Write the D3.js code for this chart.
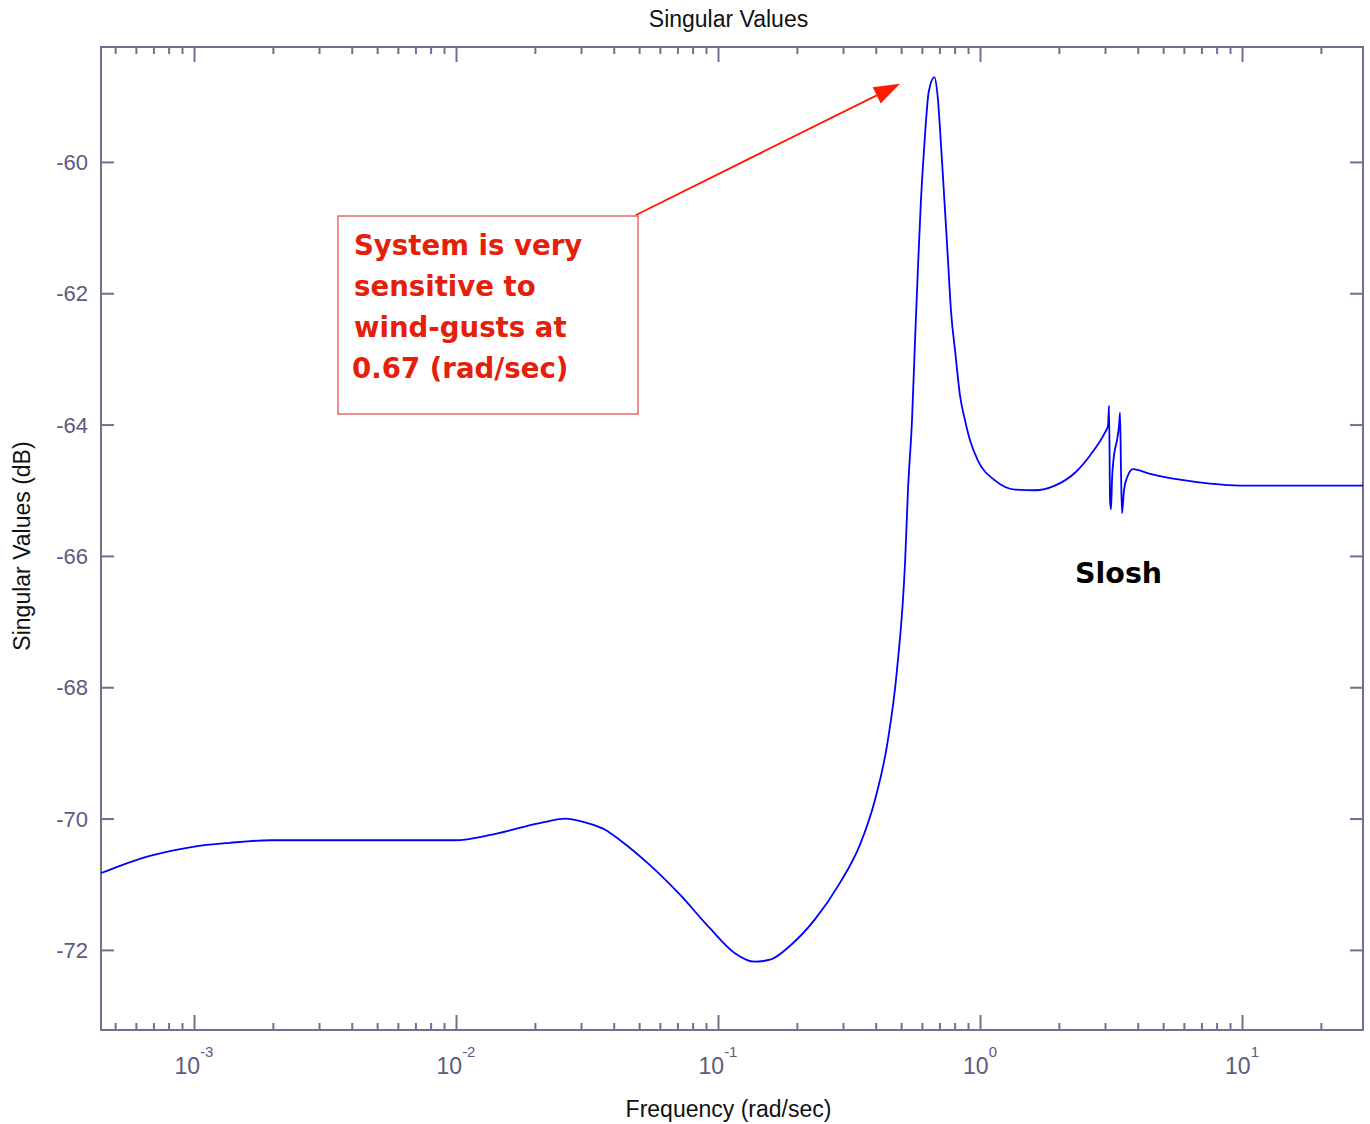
<!DOCTYPE html>
<html>
<head>
<meta charset="utf-8">
<script src="https://cdn.jsdelivr.net/npm/d3@7"></script>
<style>
  html, body { margin: 0; padding: 0; background: #fff; }
  svg { display: block; }
</style>
</head>
<body>
<svg id="chart" width="1370" height="1124"></svg>
<script>
// ---------- data ----------
const freq = [4.416e-4, 5.22e-4, 6.79e-4, 9.9e-4, 1.37e-3, 1.95e-3, 3.94e-3, 9.9e-3, 0.0135, 0.01606,
  0.0192, 0.02187, 0.0261, 0.02844, 0.0325, 0.03707, 0.0423, 0.055, 0.0716, 0.0931,
  0.116, 0.138, 0.158, 0.188, 0.234, 0.292, 0.348, 0.397, 0.442, 0.482,
  0.518, 0.531, 0.55, 0.565, 0.579, 0.595, 0.611, 0.638, 0.67, 0.686,
  0.716, 0.755, 0.775, 0.803, 0.839, 0.877, 0.916, 0.982, 1.14, 1.36,
  1.62, 1.93, 2.31, 2.63, 3.0, 3.08, 3.108, 3.136, 3.162, 3.19,
  3.247, 3.333, 3.393, 3.423, 3.453, 3.483, 3.545, 3.639, 3.837, 4.456,
  5.8, 7.55, 9.83, 28.96];
const singularDb = [-70.83, -70.72, -70.57, -70.43, -70.37, -70.33, -70.33, -70.33, -70.25, -70.18,
  -70.10, -70.05, -70.00, -70.02, -70.08, -70.17, -70.33, -70.71, -71.16, -71.67,
  -72.05, -72.18, -72.15, -71.94, -71.54, -70.98, -70.40, -69.72, -68.88, -67.74,
  -66.07, -65.00, -63.94, -62.72, -61.66, -60.59, -59.83, -58.92, -58.71, -58.92,
  -59.98, -61.51, -62.27, -62.87, -63.56, -63.94, -64.24, -64.55, -64.85, -64.99,
  -65.00, -64.93, -64.73, -64.47, -64.12, -64.02, -63.71, -65.16, -65.29, -64.85,
  -64.47, -64.24, -64.02, -63.82, -64.70, -65.35, -65.00, -64.81, -64.68, -64.75,
  -64.84, -64.90, -64.93, -64.93];
const xMajorTicks = [1e-3, 1e-2, 1e-1, 1, 10];
const xTickExponents = ["-3", "-2", "-1", "0", "1"];
const yTicks = [-72, -70, -68, -66, -64, -62, -60];
const titleText = "Singular Values";
const xLabelText = "Frequency (rad/sec)";
const yLabelText = "Singular Values (dB)";
const noteLines = ["System is very", "sensitive to", "wind-gusts at", "0.67 (rad/sec)"];
const sloshText = "Slosh";

// ---------- layout ----------
const svg = d3.select("#chart");
const L = 101, R = 1363, T = 47, B = 1030;
const axisColor = "#6f6f90";
const labelColor = "#5a5a82";

const x = d3.scaleLog().domain([4.416e-4, 28.96]).range([L, R]);
const y = d3.scaleLinear().domain([-73.22, -58.25]).range([B, T]);

// minor ticks
const xMinor = [];
for (let e = -4; e <= 1; e++) for (let k = 2; k <= 9; k++) {
  const v = k * Math.pow(10, e);
  if (v >= x.domain()[0] && v <= x.domain()[1]) xMinor.push(v);
}

svg.append("rect").attr("x", L).attr("y", T).attr("width", R - L).attr("height", B - T)
  .attr("fill", "#fff");

function styleAxis(g) {
  g.select(".domain").remove();
  g.selectAll(".tick line").attr("stroke", axisColor).attr("stroke-width", 2);
}

svg.append("g").attr("transform", `translate(0,${B})`)
  .call(d3.axisBottom(x).tickValues(xMajorTicks).tickSize(-15).tickFormat("")).call(styleAxis);
svg.append("g").attr("transform", `translate(0,${B})`)
  .call(d3.axisBottom(x).tickValues(xMinor).tickSize(-7).tickFormat("")).call(styleAxis);
svg.append("g").attr("transform", `translate(0,${T})`)
  .call(d3.axisTop(x).tickValues(xMajorTicks).tickSize(-15).tickFormat("")).call(styleAxis);
svg.append("g").attr("transform", `translate(0,${T})`)
  .call(d3.axisTop(x).tickValues(xMinor).tickSize(-7).tickFormat("")).call(styleAxis);
svg.append("g").attr("transform", `translate(${L},0)`)
  .call(d3.axisLeft(y).tickValues(yTicks).tickSize(-13).tickFormat("")).call(styleAxis);
svg.append("g").attr("transform", `translate(${R},0)`)
  .call(d3.axisRight(y).tickValues(yTicks).tickSize(-13).tickFormat("")).call(styleAxis);

svg.append("rect").attr("x", L).attr("y", T).attr("width", R - L).attr("height", B - T)
  .attr("fill", "none").attr("stroke", axisColor).attr("stroke-width", 2);

// x tick labels
const xl = svg.append("g").attr("font-family", "'Liberation Sans', Arial, sans-serif")
  .attr("fill", labelColor);
xMajorTicks.forEach((v, i) => {
  const t = xl.append("text").attr("x", x(v)).attr("y", 1074)
    .attr("text-anchor", "middle").attr("font-size", 23);
  t.append("tspan").text("10");
  t.append("tspan").attr("font-size", 15).attr("dy", -17).text(xTickExponents[i]);
});

// y tick labels
const yl = svg.append("g").attr("font-family", "'Liberation Sans', Arial, sans-serif")
  .attr("fill", labelColor);
yTicks.forEach(v => {
  yl.append("text").attr("x", 88).attr("y", y(v) + 8)
    .attr("text-anchor", "end").attr("font-size", 22).text(v);
});

// titles
svg.append("text").attr("x", 728.5).attr("y", 27).attr("text-anchor", "middle")
  .attr("font-family", "'Liberation Sans', Arial, sans-serif").attr("font-size", 23)
  .attr("fill", "#111").text(titleText);
svg.append("text").attr("x", 728.5).attr("y", 1117).attr("text-anchor", "middle")
  .attr("font-family", "'Liberation Sans', Arial, sans-serif").attr("font-size", 23)
  .attr("fill", "#111").text(xLabelText);
svg.append("text").attr("transform", `translate(30,546) rotate(-90)`).attr("text-anchor", "middle")
  .attr("font-family", "'Liberation Sans', Arial, sans-serif").attr("font-size", 23)
  .attr("fill", "#111").text(yLabelText);

// curve
const pts = freq.map((f, i) => [f, singularDb[i]]);
svg.append("path").datum(pts)
  .attr("d", d3.line().x(d => x(d[0])).y(d => y(d[1])).curve(d3.curveMonotoneX))
  .attr("fill", "none").attr("stroke", "#0000ff").attr("stroke-width", 1.8)
  .attr("stroke-linejoin", "round");

// annotation box
const boxX = 338, boxY = 216, boxW = 300, boxH = 198;
svg.append("rect").attr("x", boxX).attr("y", boxY).attr("width", boxW).attr("height", boxH)
  .attr("fill", "#fff").attr("stroke", "#e46a6a").attr("stroke-width", 1.5);
const note = svg.append("text").attr("font-family", "'DejaVu Sans', Verdana, sans-serif")
  .attr("font-weight", "bold").attr("font-size", 27.6).attr("fill", "#e4200a");
noteLines.forEach((s, i) => {
  note.append("tspan").attr("x", i === 3 ? 352 : 354).attr("y", 255 + i * 41).text(s);
});

// arrow from box corner to peak
const ax0 = boxX + boxW - 2, ay0 = boxY - 1;
const tipX = x(0.495), tipY = y(-58.81);
const ang = Math.atan2(tipY - ay0, tipX - ax0);
const hl = 26, hw = 9;
const bx = tipX - hl * Math.cos(ang), by = tipY - hl * Math.sin(ang);
svg.append("line").attr("x1", ax0).attr("y1", ay0).attr("x2", bx).attr("y2", by)
  .attr("stroke", "#ff1a00").attr("stroke-width", 1.8);
svg.append("polygon")
  .attr("points", [
    [tipX, tipY],
    [bx + hw * Math.sin(ang), by - hw * Math.cos(ang)],
    [bx - hw * Math.sin(ang), by + hw * Math.cos(ang)]
  ].map(p => p.join(",")).join(" "))
  .attr("fill", "#ff1a00");

// slosh label
svg.append("text").attr("x", 1075).attr("y", 583)
  .attr("font-family", "'DejaVu Sans', Verdana, sans-serif").attr("font-weight", "bold")
  .attr("font-size", 28.5).attr("fill", "#000").text(sloshText);
</script>
</body>
</html>
